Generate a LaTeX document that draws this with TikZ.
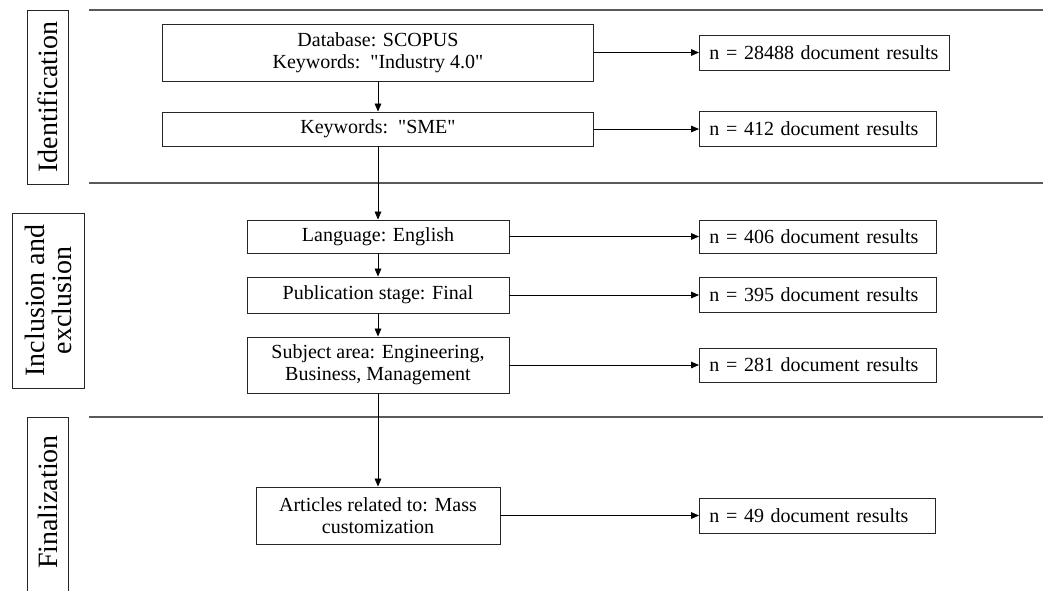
\documentclass[tikz,border=0pt]{standalone}
\usepackage{fontspec}
\setmainfont{Liberation Serif}
\usetikzlibrary{arrows.meta}
\newcommand{\qd}{\textquotedbl}
\begin{document}
\begin{tikzpicture}[x=0.75pt,y=-0.75pt,
  box/.style={draw=black!85, line width=0.7pt, align=center, inner sep=0pt,
    font=\fontsize{15}{16.5}\selectfont},
  res/.style={draw=black!85, line width=0.7pt, anchor=west, align=left,
    inner xsep=7.5pt, inner ysep=0pt, font=\fontsize{15}{16.5}\selectfont},
  side/.style={draw=black!85, line width=0.7pt, rotate=90, align=center, inner sep=0pt,
    font=\fontsize{21}{20.25}\selectfont},
  sep/.style={draw=black!65, line width=1.1pt},
  arr/.style={draw=black, line width=0.6pt, -{Triangle[length=6pt,width=5pt]}}]
\useasboundingbox (0,0) rectangle (1048,590);

% separators
\draw[sep] (89,10) -- (1043,10);
\draw[sep] (89,183) -- (1043,183);
\draw[sep] (89,417) -- (1043,417);

% side labels
\node[side, minimum width=130.5pt, minimum height=30.75pt] (L1) at (47.5,97) {Identification};
\node[side, minimum width=131.25pt, minimum height=54pt] (L2) at (48,300.5) {Inclusion and\\exclusion};
\draw[draw=black!85, line width=0.7pt] (27,595) -- (27,417) -- (68,417) -- (68,595);
\node[rotate=90, inner sep=0pt, font=\fontsize{21}{20.25}\selectfont] (L3) at (47.5,502) {Finalization};

% main boxes
\node[box, minimum width=323.25pt, minimum height=42.75pt] (b1) at (378,52.5) {Database: SCOPUS\\Keywords:\enspace\qd Industry 4.0\qd};
\node[box, minimum width=323.25pt, minimum height=25.5pt] (b2) at (378,129) {Keywords:\enspace\qd SME\qd};
\node[box, minimum width=196.5pt, minimum height=24.75pt] (b3) at (378,236.5) {Language: English};
\node[box, minimum width=196.5pt, minimum height=27pt] (b4) at (378,295) {Publication stage: Final};
\node[box, minimum width=196.5pt, minimum height=42pt] (b5) at (378,365) {Subject area: Engineering,\\Business, Management};
\node[box, minimum width=183pt, minimum height=42.75pt] (b6) at (378,515.5) {Articles related to: Mass\\customization};

% result boxes
\node[res, text width=172.5pt, minimum height=26.25pt] (r1) at (699,52.5) {n = 28488 document results};
\node[res, text width=162.75pt, minimum height=26.25pt] (r2) at (699,129) {n = 412 document results};
\node[res, text width=162.75pt, minimum height=24.75pt] (r3) at (699,236.5) {n = 406 document results};
\node[res, text width=162.75pt, minimum height=26.25pt] (r4) at (699,295) {n = 395 document results};
\node[res, text width=162.75pt, minimum height=25.5pt] (r5) at (699,365) {n = 281 document results};
\node[res, text width=162pt, minimum height=26.25pt] (r6) at (699,515.5) {n = 49 document results};

% vertical arrows
\draw[arr] (b1) -- (b2);
\draw[arr] (b2) -- (b3);
\draw[arr] (b3) -- (b4);
\draw[arr] (b4) -- (b5);
\draw[arr] (b5) -- (b6);

% horizontal arrows
\draw[arr] (b1) -- (r1);
\draw[arr] (b2) -- (r2);
\draw[arr] (b3) -- (r3);
\draw[arr] (b4) -- (r4);
\draw[arr] (b5) -- (r5);
\draw[arr] (b6) -- (r6);
\end{tikzpicture}
\end{document}
